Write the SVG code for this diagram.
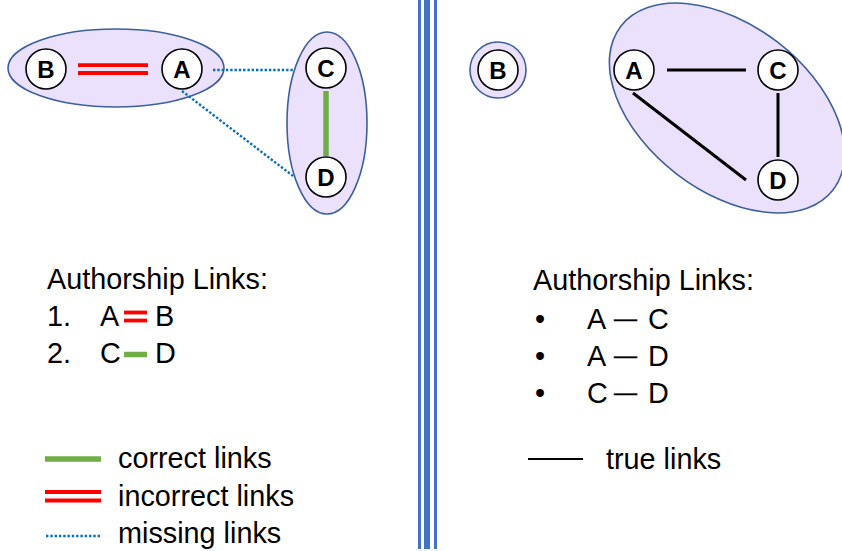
<svg xmlns="http://www.w3.org/2000/svg" width="842" height="551" viewBox="0 0 842 551">
  <defs>
    <style>
      .cluster { fill: #ECE1FD; stroke: #3E5F9E; stroke-width: 1.6; }
      .node circle { fill: #FFFFFF; stroke: #000000; stroke-width: 1.6; }
      .node text { font-family: "Liberation Sans", Arial, sans-serif; font-weight: bold; font-size: 24px; text-anchor: middle; fill: #000000; }
      .label { font-family: "Liberation Sans", Arial, sans-serif; font-size: 28.8px; fill: #000000; }
      .dash { font-family: "Liberation Sans", Arial, sans-serif; font-size: 23px; fill: #000000; stroke: #000000; stroke-width: 0.4; }
      .wrong { stroke: #FF0000; stroke-width: 3.8; fill: none; }
      .right { stroke: #70AD47; stroke-width: 5.5; fill: none; }
      .missing { stroke: #0070C0; stroke-width: 2.4; stroke-dasharray: 2.4 1.9; fill: none; }
      .truth { stroke: #000000; stroke-width: 3; fill: none; }
      .divider { fill: #4472C4; }
    </style>
  </defs>

  <!-- vertical triple divider between the two panels -->
  <g id="divider">
    <rect class="divider" x="418" y="0" width="3" height="549"/>
    <rect class="divider" x="424" y="0" width="6" height="549"/>
    <rect class="divider" x="434" y="0" width="3" height="549"/>
  </g>

  <!-- clusters -->
  <g id="clusters">
    <ellipse id="cluster-ab" class="cluster" cx="116" cy="68" rx="108" ry="39"/>
    <ellipse id="cluster-cd" class="cluster" cx="327" cy="123" rx="40" ry="91"/>
    <ellipse id="cluster-b2" class="cluster" cx="498" cy="70" rx="28" ry="28"/>
    <ellipse id="cluster-acd" class="cluster" cx="727" cy="108" rx="134" ry="83" transform="rotate(37.6 727 108)"/>
  </g>

  <!-- connectors -->
  <g id="connectors">
    <line class="wrong" x1="78" y1="65.2" x2="148" y2="65.2"/>
    <line class="wrong" x1="78" y1="73" x2="148" y2="73"/>
    <line class="right" x1="326" y1="91" x2="326" y2="156"/>
    <line class="missing" x1="213" y1="70" x2="293" y2="70"/>
    <line class="missing" x1="182" y1="91" x2="293" y2="176"/>
    <line class="truth" x1="667" y1="70" x2="746" y2="70"/>
    <line class="truth" x1="633" y1="93" x2="746" y2="180"/>
    <line class="truth" x1="778" y1="93" x2="778" y2="157"/>
  </g>

  <!-- left panel nodes -->
  <g id="node-B-left" class="node"><circle cx="46" cy="69" r="20"/><text x="46" y="77.5">B</text></g>
  <g id="node-A-left" class="node"><circle cx="182" cy="69" r="20"/><text x="182" y="77.5">A</text></g>
  <g id="node-C-left" class="node"><circle cx="326" cy="68" r="20"/><text x="326" y="76.5">C</text></g>
  <g id="node-D-left" class="node"><circle cx="326" cy="177" r="20"/><text x="326" y="185.5">D</text></g>

  <!-- right panel nodes -->
  <g id="node-B-right" class="node"><circle cx="498" cy="70" r="20"/><text x="498" y="78.5">B</text></g>
  <g id="node-A-right" class="node"><circle cx="634" cy="70" r="20"/><text x="634" y="78.5">A</text></g>
  <g id="node-C-right" class="node"><circle cx="778" cy="70" r="20"/><text x="778" y="78.5">C</text></g>
  <g id="node-D-right" class="node"><circle cx="778" cy="180" r="20"/><text x="778" y="188.5">D</text></g>

  <!-- left panel: predicted links -->
  <g id="left-list">
    <text class="label" x="47" y="289">Authorship Links:</text>
    <text class="label" x="47" y="326">1.</text>
    <text class="label" x="100" y="326">A</text>
    <line class="wrong" x1="124" y1="312.5" x2="147" y2="312.5"/>
    <line class="wrong" x1="124" y1="320.5" x2="147" y2="320.5"/>
    <text class="label" x="155" y="326">B</text>
    <text class="label" x="47" y="363">2.</text>
    <text class="label" x="100" y="363">C</text>
    <line class="right" x1="124" y1="354.5" x2="147" y2="354.5" stroke-width="5"/>
    <text class="label" x="155" y="363">D</text>
  </g>

  <!-- left panel: legend -->
  <g id="legend-left">
    <line class="right" x1="45" y1="459" x2="101" y2="459"/>
    <text class="label" x="118" y="468">correct links</text>
    <line class="wrong" x1="45" y1="492" x2="101" y2="492"/>
    <line class="wrong" x1="45" y1="500.5" x2="101" y2="500.5"/>
    <text class="label" x="118" y="506">incorrect links</text>
    <line class="missing" x1="46" y1="536" x2="102" y2="536"/>
    <text class="label" x="118" y="543">missing links</text>
  </g>

  <!-- right panel: true links -->
  <g id="right-list">
    <text class="label" x="533" y="290">Authorship Links:</text>
    <text class="label" x="535" y="329">•</text>
    <text class="label" x="587" y="329">A</text>
    <text class="dash" x="614" y="326">—</text>
    <text class="label" x="648" y="329">C</text>
    <text class="label" x="535" y="366">•</text>
    <text class="label" x="587" y="366">A</text>
    <text class="dash" x="614" y="363">—</text>
    <text class="label" x="648" y="366">D</text>
    <text class="label" x="535" y="403">•</text>
    <text class="label" x="587" y="403">C</text>
    <text class="dash" x="614" y="400">—</text>
    <text class="label" x="648" y="403">D</text>
  </g>

  <!-- right panel: legend -->
  <g id="legend-right">
    <line x1="528" y1="459" x2="583" y2="459" stroke="#000000" stroke-width="2.2"/>
    <text class="label" x="606" y="469">true links</text>
  </g>
</svg>
